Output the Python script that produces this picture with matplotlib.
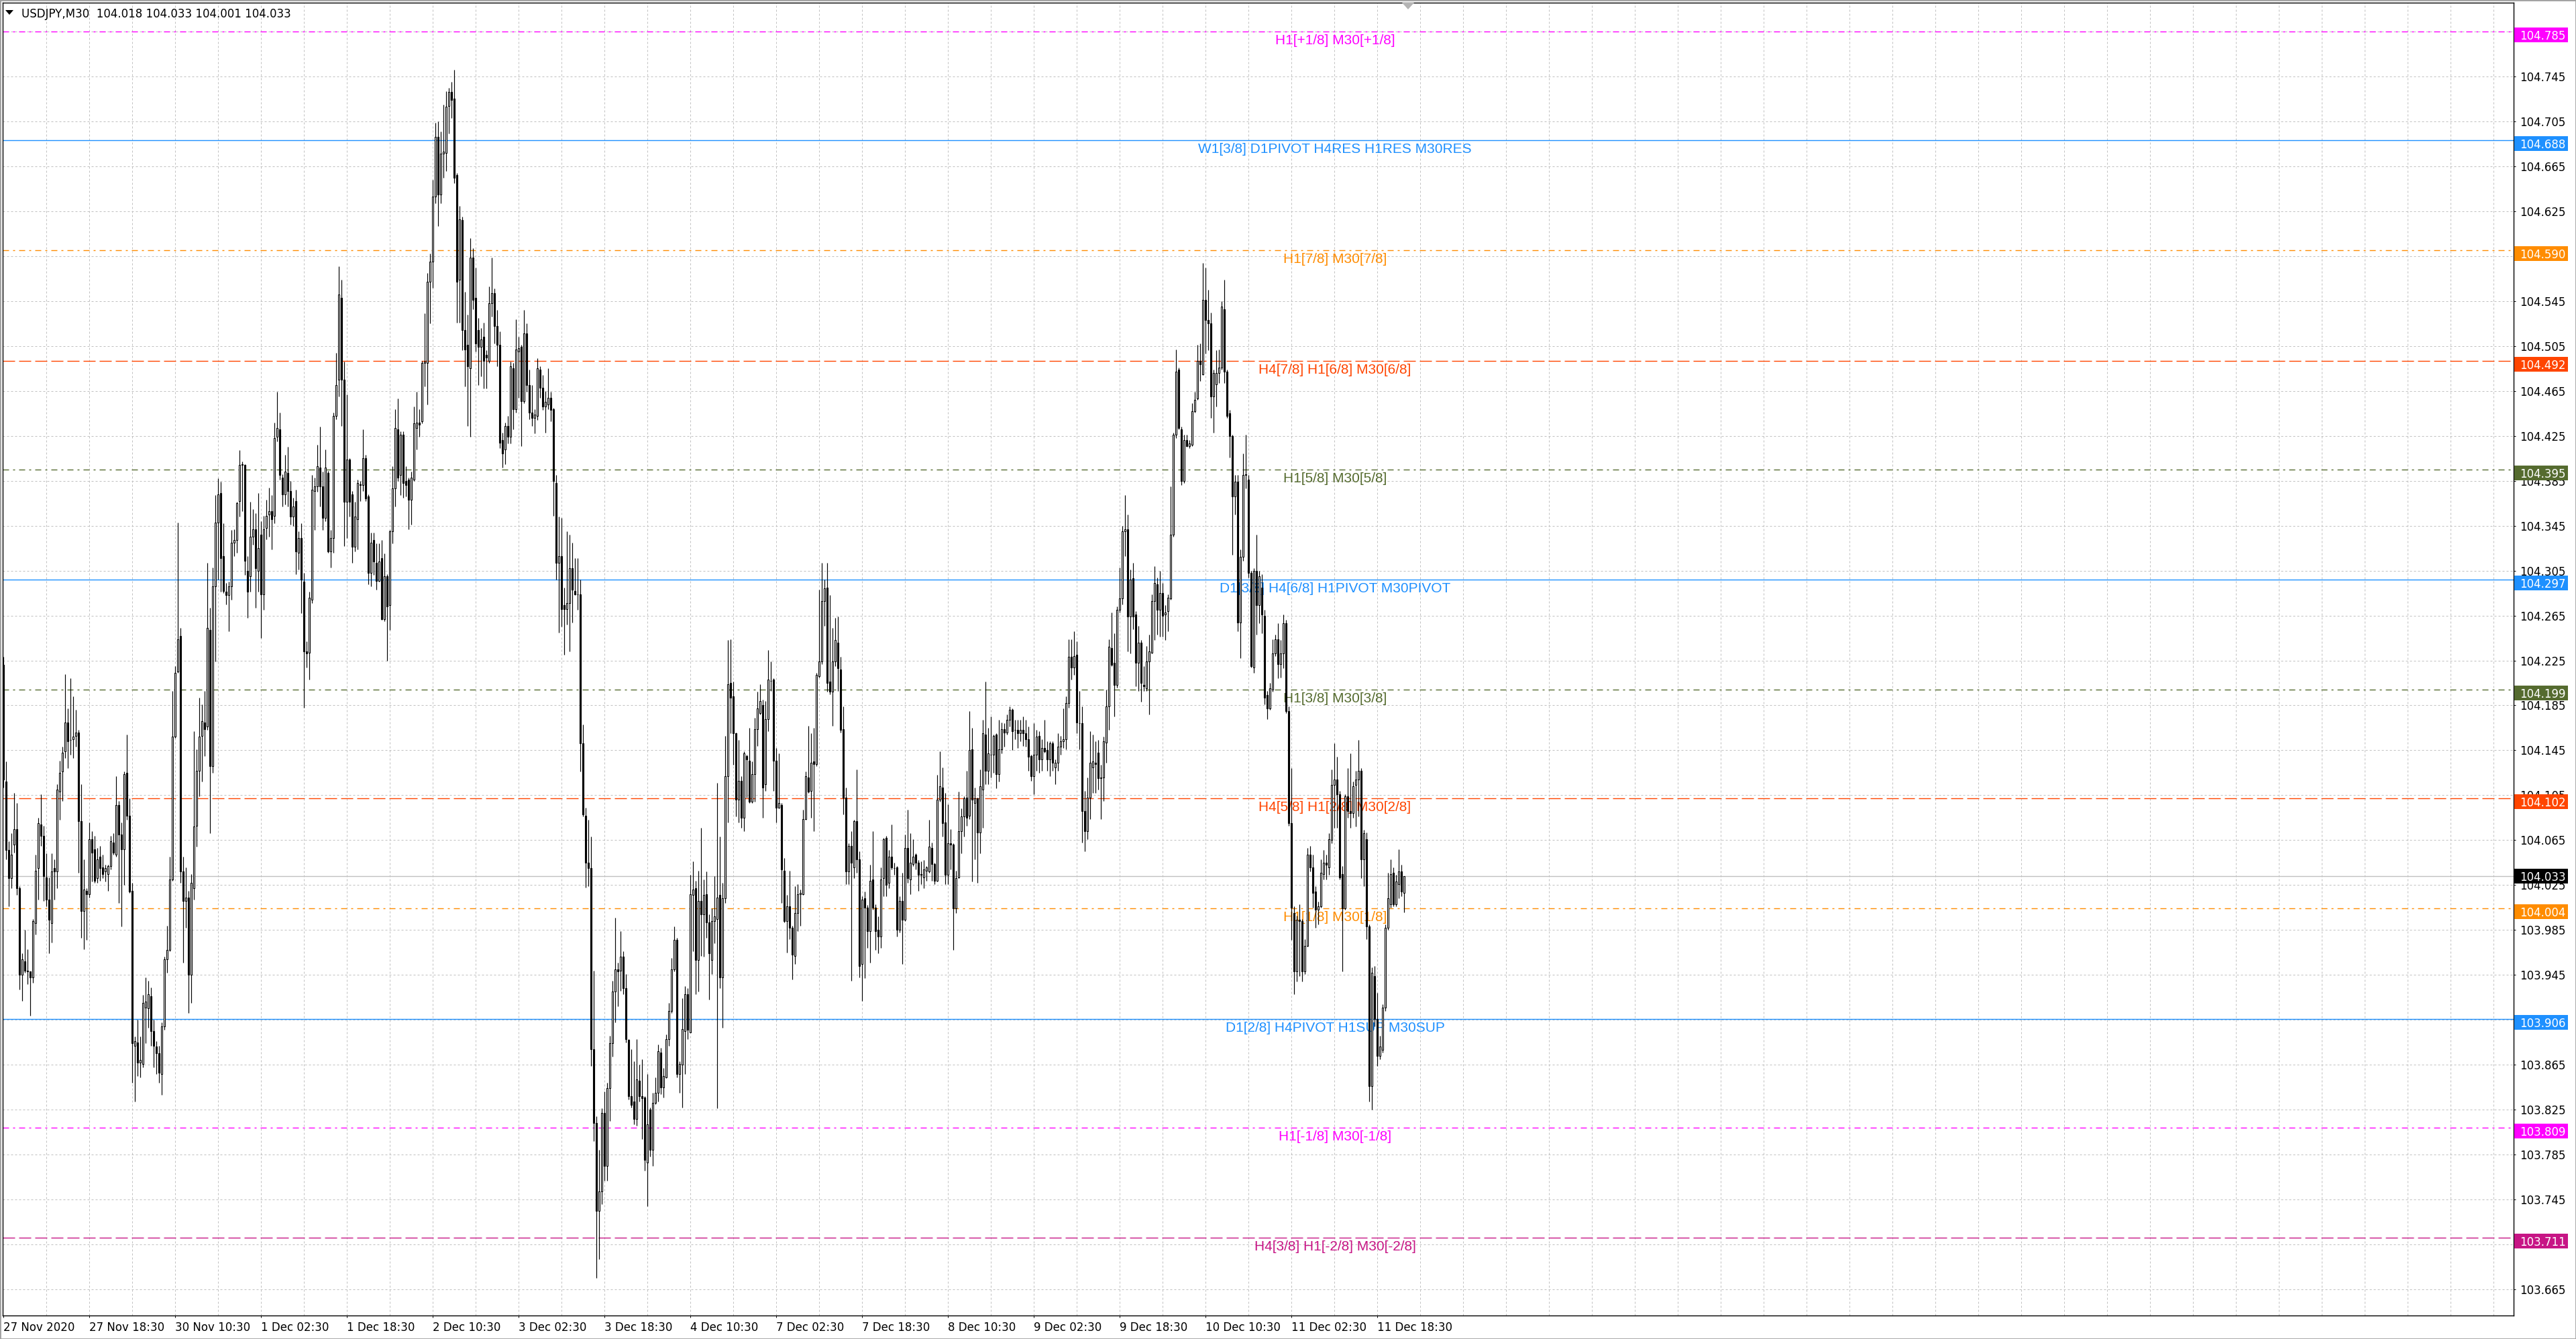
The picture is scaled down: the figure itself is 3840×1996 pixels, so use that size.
import matplotlib
matplotlib.use("Agg")
import matplotlib.pyplot as plt
import matplotlib.transforms as mtransforms
from matplotlib.patches import Rectangle, Polygon
import numpy as np

plt.rcParams['lines.scale_dashes'] = False
plt.rcParams['font.family'] = ['DejaVu Sans']

# USDJPY M30 candles, prices stored as thousandths above 103.000
BASE = 103.0
opens = [
    1221, 1117, 1056, 1031, 1061, 1075, 1022, 945, 957, 949,
    948, 943, 991, 1040, 1079, 1069, 1032, 1012, 991, 1040,
    1037, 1108, 1126, 1144, 1170, 1154, 1155, 1158, 1161, 1082,
    1002, 1020, 1017, 1066, 1057, 1031, 1050, 1041, 1037, 1035,
    1042, 1063, 1052, 1096, 1070, 1057, 1125, 1087, 1020, 882,
    885, 867, 866, 916, 915, 926, 895, 881, 875, 857,
    899, 959, 967, 1030, 1157, 1215, 1247, 1037, 1011, 1014,
    945, 1022, 1078, 1127, 1158, 1170, 1166, 1252, 1131, 1291,
    1348, 1374, 1318, 1286, 1283, 1291, 1330, 1332, 1367, 1399,
    1399, 1305, 1300, 1335, 1342, 1305, 1337, 1284, 1343, 1355,
    1358, 1354, 1424, 1431, 1388, 1373, 1392, 1376, 1353, 1367,
    1321, 1334, 1295, 1233, 1232, 1279, 1376, 1380, 1397, 1380,
    1352, 1392, 1322, 1334, 1443, 1475, 1548, 1475, 1366, 1404,
    1373, 1326, 1351, 1382, 1381, 1405, 1371, 1303, 1332, 1312,
    1296, 1316, 1262, 1300, 1274, 1340, 1378, 1431, 1390, 1426,
    1385, 1386, 1368, 1386, 1432, 1437, 1438, 1490, 1490, 1562,
    1580, 1638, 1691, 1640, 1676, 1677, 1719, 1731, 1725, 1657,
    1564, 1617, 1519, 1506, 1485, 1584, 1548, 1519, 1504, 1513,
    1497, 1492, 1543, 1552, 1523, 1506, 1421, 1413, 1434, 1424,
    1485, 1449, 1500, 1504, 1456, 1516, 1470, 1446, 1441, 1443,
    1484, 1468, 1451, 1453, 1459, 1449, 1383, 1312, 1318, 1274,
    1271, 1276, 1307, 1287, 1284, 1284, 1151, 1087, 1045, 1040,
    879, 813, 735, 752, 822, 775, 844, 884, 930, 950,
    949, 961, 933, 887, 837, 832, 817, 851, 837, 836,
    778, 825, 789, 831, 840, 876, 845, 854, 888, 913,
    950, 976, 857, 865, 895, 928, 894, 1016, 1022, 958,
    1011, 999, 1017, 992, 958, 993, 995, 1016, 943, 1013,
    1122, 1205, 1193, 1160, 1101, 1118, 1085, 1140, 1136, 1099,
    1124, 1164, 1178, 1185, 1115, 1173, 1207, 1208, 1136, 1094,
    1096, 1038, 993, 1006, 987, 962, 1000, 1017, 1017, 1084,
    1121, 1109, 1135, 1133, 1211, 1224, 1278, 1290, 1206, 1197,
    1224, 1241, 1217, 1164, 1103, 1037, 1060, 1041, 1082, 1048,
    955, 1013, 1005, 984, 1030, 1005, 985, 979, 1031, 1067,
    1027, 1050, 1040, 1041, 985, 1011, 994, 1058, 1030, 1044,
    1052, 1045, 1035, 1032, 1038, 1037, 1058, 1044, 1029, 1101,
    1112, 1081, 1034, 1062, 1061, 1004, 1032, 1073, 1086, 1103,
    1087, 1146, 1098, 1102, 1072, 1110, 1159, 1127, 1141, 1141,
    1159, 1124, 1146, 1164, 1161, 1172, 1181, 1163, 1163, 1160,
    1163, 1160, 1155, 1140, 1122, 1141, 1158, 1137, 1147, 1145,
    1137, 1151, 1130, 1134, 1148, 1153, 1155, 1187, 1228, 1219,
    1230, 1169, 1169, 1091, 1073, 1103, 1130, 1134, 1143, 1120,
    1121, 1152, 1184, 1236, 1223, 1203, 1270, 1280, 1340, 1342,
    1264, 1298, 1266, 1223, 1241, 1203, 1200, 1224, 1232, 1278,
    1293, 1270, 1285, 1266, 1269, 1280, 1337, 1426, 1484, 1431,
    1385, 1421, 1416, 1417, 1447, 1458, 1492, 1480, 1546, 1528,
    1525, 1460, 1471, 1481, 1486, 1538, 1482, 1445, 1425, 1371,
    1384, 1259, 1317, 1390, 1386, 1303, 1219, 1305, 1274, 1290,
    1265, 1194, 1182, 1199, 1231, 1244, 1222, 1231, 1258, 1180,
    1080, 1000, 948, 994, 993, 948, 971, 1052, 1041, 1019,
    1003, 1006, 1035, 1045, 1041, 1065, 1114, 1119, 1106, 1035,
    1004, 1104, 1091, 1089, 1114, 1119, 1127, 1048, 1066, 988,
    846, 944, 906, 873, 878, 916, 987, 1008, 1036, 1008,
    1026, 1037, 1018,
]
highs = [
    1228, 1135, 1064, 1071, 1107, 1098, 1024, 964, 985, 968,
    948, 995, 1052, 1085, 1106, 1078, 1053, 1032, 1053, 1048,
    1115, 1136, 1148, 1213, 1182, 1209, 1193, 1181, 1163, 1115,
    1048, 1022, 1081, 1073, 1069, 1058, 1060, 1052, 1043, 1043,
    1069, 1071, 1122, 1100, 1081, 1126, 1159, 1102, 1027, 890,
    905, 890, 927, 943, 940, 934, 905, 886, 882, 903,
    961, 989, 1050, 1198, 1220, 1348, 1254, 1050, 1041, 1020,
    1035, 1162, 1146, 1192, 1186, 1198, 1312, 1272, 1308, 1372,
    1387, 1384, 1347, 1294, 1295, 1341, 1342, 1366, 1412, 1402,
    1400, 1318, 1366, 1360, 1356, 1374, 1349, 1354, 1368, 1379,
    1372, 1437, 1464, 1446, 1391, 1408, 1415, 1385, 1370, 1377,
    1340, 1347, 1303, 1242, 1286, 1390, 1388, 1417, 1433, 1393,
    1413, 1394, 1341, 1446, 1499, 1576, 1564, 1491, 1462, 1405,
    1376, 1366, 1386, 1385, 1431, 1408, 1373, 1339, 1339, 1329,
    1329, 1332, 1320, 1302, 1341, 1398, 1449, 1458, 1429, 1429,
    1398, 1388, 1393, 1451, 1464, 1449, 1492, 1534, 1570, 1587,
    1653, 1704, 1705, 1696, 1720, 1732, 1735, 1740, 1751, 1659,
    1630, 1620, 1553, 1533, 1601, 1592, 1575, 1530, 1521, 1526,
    1501, 1558, 1584, 1556, 1537, 1518, 1428, 1437, 1443, 1491,
    1490, 1529, 1513, 1506, 1537, 1525, 1484, 1470, 1449, 1494,
    1487, 1479, 1465, 1485, 1464, 1450, 1390, 1353, 1352, 1290,
    1340, 1337, 1330, 1316, 1316, 1297, 1168, 1094, 1083, 1068,
    949, 819, 789, 826, 841, 849, 891, 940, 996, 956,
    984, 966, 946, 888, 879, 868, 888, 865, 870, 837,
    857, 827, 840, 854, 883, 880, 862, 892, 920, 960,
    988, 978, 868, 924, 935, 933, 1034, 1046, 1029, 1038,
    1076, 1030, 1037, 999, 1004, 1033, 1116, 1068, 1027, 1158,
    1243, 1244, 1206, 1161, 1154, 1122, 1144, 1141, 1165, 1135,
    1174, 1197, 1204, 1190, 1189, 1234, 1224, 1209, 1147, 1142,
    1098, 1049, 1016, 1038, 989, 1024, 1026, 1021, 1092, 1126,
    1167, 1160, 1165, 1214, 1288, 1312, 1297, 1312, 1283, 1254,
    1263, 1264, 1228, 1184, 1112, 1062, 1073, 1083, 1128, 1055,
    1015, 1019, 1007, 1043, 1073, 1008, 997, 1041, 1067, 1069,
    1056, 1079, 1045, 1042, 1015, 1036, 1070, 1092, 1071, 1066,
    1053, 1047, 1046, 1047, 1042, 1083, 1063, 1045, 1123, 1144,
    1130, 1107, 1097, 1075, 1062, 1038, 1108, 1093, 1104, 1127,
    1180, 1165, 1112, 1103, 1128, 1172, 1206, 1165, 1175, 1159,
    1160, 1172, 1170, 1169, 1177, 1184, 1182, 1172, 1172, 1172,
    1175, 1172, 1166, 1141, 1169, 1163, 1162, 1155, 1172, 1153,
    1153, 1153, 1137, 1160, 1158, 1182, 1193, 1244, 1244, 1251,
    1242, 1198, 1184, 1109, 1121, 1162, 1159, 1153, 1154, 1132,
    1157, 1199, 1244, 1268, 1249, 1273, 1308, 1345, 1372, 1355,
    1306, 1312, 1269, 1256, 1243, 1220, 1238, 1248, 1284, 1309,
    1299, 1305, 1294, 1274, 1284, 1380, 1428, 1502, 1486, 1433,
    1426, 1426, 1421, 1454, 1464, 1506, 1507, 1579, 1575, 1555,
    1535, 1484, 1501, 1502, 1545, 1564, 1484, 1448, 1426, 1390,
    1390, 1324, 1409, 1426, 1390, 1305, 1307, 1337, 1305, 1302,
    1270, 1198, 1205, 1244, 1248, 1258, 1243, 1266, 1261, 1184,
    1129, 1006, 998, 1008, 995, 977, 1058, 1060, 1052, 1024,
    1010, 1048, 1056, 1052, 1071, 1128, 1151, 1139, 1109, 1042,
    1106, 1129, 1142, 1117, 1127, 1154, 1129, 1074, 1072, 990,
    952, 953, 929, 891, 919, 990, 1036, 1048, 1041, 1034,
    1057, 1043, 1033,
]
lows = [
    1112, 1048, 1006, 1022, 1054, 1016, 932, 922, 947, 937,
    909, 938, 981, 1012, 1060, 1011, 1006, 964, 974, 1012,
    1022, 1083, 1100, 1138, 1129, 1141, 1138, 1148, 1036, 978,
    968, 976, 1014, 1028, 1027, 1027, 1029, 1031, 1028, 1020,
    1039, 1052, 1050, 1009, 988, 1025, 1083, 1018, 849, 832,
    855, 854, 863, 884, 898, 882, 863, 857, 849, 838,
    896, 947, 966, 1029, 1156, 1214, 1027, 956, 987, 911,
    920, 1012, 1059, 1104, 1117, 1140, 1163, 1071, 1125, 1224,
    1297, 1286, 1285, 1275, 1251, 1279, 1318, 1321, 1353, 1358,
    1301, 1263, 1286, 1328, 1272, 1286, 1245, 1270, 1333, 1335,
    1324, 1347, 1420, 1386, 1362, 1364, 1362, 1346, 1345, 1302,
    1306, 1267, 1183, 1219, 1208, 1276, 1341, 1375, 1362, 1341,
    1349, 1321, 1308, 1321, 1440, 1460, 1434, 1327, 1334, 1353,
    1312, 1322, 1324, 1367, 1376, 1367, 1293, 1291, 1301, 1288,
    1295, 1261, 1260, 1225, 1252, 1329, 1362, 1385, 1372, 1370,
    1371, 1342, 1346, 1385, 1413, 1424, 1436, 1469, 1453, 1525,
    1557, 1632, 1612, 1632, 1655, 1661, 1694, 1708, 1650, 1526,
    1526, 1501, 1469, 1434, 1424, 1538, 1500, 1470, 1478, 1467,
    1467, 1490, 1531, 1507, 1487, 1414, 1397, 1400, 1418, 1418,
    1431, 1446, 1459, 1416, 1454, 1464, 1440, 1434, 1427, 1439,
    1459, 1448, 1428, 1449, 1438, 1354, 1297, 1250, 1255, 1230,
    1257, 1233, 1259, 1283, 1270, 1126, 1086, 1023, 1024, 864,
    797, 675, 692, 741, 762, 762, 815, 872, 903, 917,
    931, 928, 885, 834, 827, 812, 811, 832, 799, 771,
    739, 783, 775, 830, 832, 839, 836, 853, 882, 911,
    948, 854, 840, 827, 857, 888, 894, 966, 928, 930,
    962, 961, 978, 923, 946, 973, 826, 933, 898, 1009,
    1081, 1160, 1132, 1086, 1081, 1076, 1073, 1103, 1098, 1098,
    1099, 1149, 1177, 1085, 1109, 1162, 1198, 1109, 1081, 1093,
    1009, 992, 965, 977, 941, 955, 984, 989, 1016, 1083,
    1107, 1085, 1073, 1131, 1210, 1222, 1256, 1197, 1195, 1167,
    1220, 1198, 1161, 1088, 1026, 1026, 940, 1031, 1036, 943,
    922, 942, 969, 956, 1003, 967, 964, 969, 1015, 1015,
    1022, 1039, 1034, 979, 983, 955, 993, 1027, 1017, 1042,
    1039, 1020, 1026, 1022, 1029, 1036, 1029, 1026, 1028, 1099,
    1068, 1026, 1026, 1039, 967, 1000, 1031, 1053, 1068, 1078,
    1084, 1028, 1048, 1027, 1053, 1076, 1115, 1115, 1121, 1125,
    1111, 1117, 1142, 1148, 1159, 1166, 1145, 1155, 1147, 1153,
    1149, 1148, 1127, 1118, 1106, 1127, 1125, 1127, 1143, 1127,
    1122, 1127, 1115, 1127, 1141, 1147, 1146, 1183, 1208, 1212,
    1160, 1146, 1063, 1055, 1066, 1084, 1107, 1107, 1110, 1084,
    1100, 1134, 1163, 1220, 1175, 1201, 1268, 1275, 1318, 1233,
    1231, 1253, 1202, 1198, 1188, 1198, 1198, 1177, 1231, 1243,
    1248, 1246, 1246, 1243, 1251, 1279, 1335, 1423, 1431, 1381,
    1383, 1415, 1414, 1416, 1446, 1457, 1474, 1479, 1498, 1501,
    1441, 1428, 1451, 1472, 1484, 1472, 1441, 1406, 1319, 1355,
    1251, 1227, 1314, 1378, 1299, 1219, 1214, 1248, 1258, 1249,
    1186, 1173, 1181, 1197, 1229, 1209, 1210, 1218, 1178, 1078,
    976, 928, 939, 944, 939, 946, 970, 1037, 1005, 987,
    990, 1005, 1030, 1030, 1034, 1062, 1076, 1076, 1030, 948,
    1003, 1085, 1076, 1085, 1077, 1086, 1031, 1024, 977, 832,
    825, 899, 864, 870, 876, 913, 985, 1005, 1006, 1006,
    1013, 1015, 1001,
]
closes = [
    1119, 1056, 1031, 1052, 1075, 1022, 945, 959, 949, 948,
    943, 993, 1038, 1080, 1069, 1033, 1012, 994, 1037, 1037,
    1110, 1125, 1143, 1170, 1153, 1154, 1157, 1161, 1082, 1002,
    1021, 1017, 1066, 1054, 1029, 1048, 1040, 1035, 1040, 1042,
    1064, 1054, 1096, 1070, 1057, 1124, 1087, 1019, 884, 886,
    867, 869, 920, 921, 928, 895, 882, 875, 858, 899,
    959, 967, 1030, 1157, 1214, 1244, 1037, 1011, 1014, 945,
    1027, 1077, 1127, 1157, 1171, 1164, 1254, 1131, 1291, 1348,
    1373, 1316, 1287, 1283, 1291, 1330, 1332, 1365, 1399, 1400,
    1314, 1286, 1335, 1342, 1307, 1325, 1284, 1342, 1354, 1358,
    1351, 1423, 1432, 1390, 1373, 1393, 1376, 1353, 1362, 1322,
    1334, 1297, 1233, 1231, 1281, 1377, 1380, 1398, 1380, 1352,
    1397, 1322, 1334, 1443, 1470, 1551, 1475, 1366, 1404, 1366,
    1326, 1353, 1383, 1381, 1405, 1369, 1303, 1330, 1313, 1296,
    1313, 1262, 1300, 1273, 1340, 1378, 1432, 1388, 1426, 1383,
    1381, 1368, 1388, 1436, 1437, 1435, 1490, 1491, 1562, 1580,
    1638, 1691, 1640, 1676, 1678, 1718, 1731, 1724, 1655, 1562,
    1618, 1519, 1502, 1487, 1584, 1546, 1507, 1504, 1511, 1492,
    1495, 1543, 1552, 1523, 1506, 1419, 1409, 1434, 1424, 1487,
    1449, 1502, 1503, 1456, 1516, 1470, 1446, 1441, 1444, 1485,
    1468, 1451, 1455, 1459, 1448, 1385, 1312, 1318, 1271, 1271,
    1276, 1307, 1288, 1284, 1284, 1151, 1088, 1045, 1040, 879,
    813, 735, 752, 822, 775, 844, 884, 930, 950, 948,
    961, 933, 888, 837, 829, 817, 852, 837, 835, 780,
    812, 789, 831, 840, 877, 845, 855, 888, 913, 950,
    976, 857, 866, 897, 928, 896, 1017, 1021, 958, 1011,
    999, 1016, 992, 964, 993, 997, 1014, 943, 1013, 1122,
    1204, 1192, 1160, 1101, 1118, 1085, 1142, 1137, 1099, 1124,
    1164, 1182, 1189, 1112, 1173, 1208, 1207, 1136, 1094, 1098,
    1039, 993, 1006, 987, 963, 1000, 1017, 1018, 1084, 1122,
    1108, 1134, 1133, 1212, 1224, 1278, 1289, 1205, 1197, 1224,
    1243, 1218, 1163, 1103, 1037, 1060, 1045, 1082, 1048, 953,
    1012, 1005, 984, 1029, 1005, 984, 979, 1030, 1066, 1025,
    1050, 1041, 1040, 985, 1011, 994, 1058, 1031, 1045, 1050,
    1045, 1034, 1034, 1039, 1041, 1059, 1044, 1029, 1101, 1113,
    1080, 1034, 1062, 1061, 1004, 1031, 1073, 1086, 1102, 1085,
    1145, 1101, 1102, 1072, 1113, 1160, 1127, 1142, 1141, 1158,
    1124, 1146, 1164, 1161, 1172, 1181, 1162, 1163, 1160, 1163,
    1160, 1155, 1139, 1122, 1141, 1157, 1137, 1147, 1144, 1137,
    1151, 1134, 1134, 1148, 1153, 1155, 1187, 1228, 1219, 1229,
    1170, 1169, 1091, 1073, 1103, 1134, 1135, 1133, 1120, 1121,
    1153, 1184, 1237, 1221, 1203, 1270, 1280, 1340, 1342, 1264,
    1297, 1264, 1223, 1241, 1205, 1202, 1224, 1233, 1278, 1294,
    1270, 1285, 1265, 1268, 1281, 1337, 1426, 1482, 1432, 1385,
    1421, 1416, 1418, 1447, 1457, 1492, 1489, 1546, 1528, 1525,
    1460, 1481, 1481, 1486, 1540, 1482, 1443, 1425, 1371, 1384,
    1259, 1317, 1390, 1391, 1303, 1220, 1305, 1274, 1300, 1266,
    1192, 1182, 1200, 1231, 1244, 1222, 1231, 1258, 1180, 1080,
    1005, 948, 994, 993, 948, 971, 1052, 1041, 1018, 1003,
    1006, 1036, 1045, 1043, 1066, 1114, 1119, 1106, 1032, 1004,
    1104, 1091, 1089, 1113, 1119, 1127, 1048, 1071, 988, 846,
    947, 906, 873, 881, 916, 987, 1013, 1035, 1008, 1028,
    1037, 1019, 1033,
]

title = "USDJPY,M30  104.018 104.033 104.001 104.033"
bid = 104.033

levels = [104.785, 104.688, 104.590, 104.492, 104.395, 104.297,
          104.199, 104.102, 104.004, 103.906, 103.809, 103.711]
level_texts = ["H1[+1/8] M30[+1/8]",
               "W1[3/8] D1PIVOT H4RES H1RES M30RES",
               "H1[7/8] M30[7/8]",
               "H4[7/8] H1[6/8] M30[6/8]",
               "H1[5/8] M30[5/8]",
               "D1[3/8] H4[6/8] H1PIVOT M30PIVOT",
               "H1[3/8] M30[3/8]",
               "H4[5/8] H1[2/8] M30[2/8]",
               "H1[1/8] M30[1/8]",
               "D1[2/8] H4PIVOT H1SUP M30SUP",
               "H1[-1/8] M30[-1/8]",
               "H4[3/8] H1[-2/8] M30[-2/8]"]
level_colors = ['#FF00FF', '#1E90FF', '#FF8C00', '#FF4500', '#556B2F', '#1E90FF',
                '#556B2F', '#FF4500', '#FF8C00', '#1E90FF', '#FF00FF', '#C71585']
level_styles = ['dashdot', 'solid', 'dashdot', 'dash', 'dashdot', 'solid',
                'dashdot', 'dash', 'dashdot', 'solid', 'dashdot', 'dash']

yticks = [103.665, 103.705, 103.745, 103.785, 103.825, 103.865, 103.905, 103.945,
          103.985, 104.025, 104.065, 104.105, 104.145, 104.185, 104.225, 104.265,
          104.305, 104.345, 104.385, 104.425, 104.465, 104.505, 104.545, 104.585,
          104.625, 104.665, 104.705, 104.745, 104.785]
# tick labels that sit completely under a price box in the reference
hidden_ticks = [103.705, 103.905, 104.585, 104.785]
xtick_bars = [0, 32, 64, 96, 128, 160, 192, 224, 256, 288, 320, 352, 384, 416, 448, 480, 512]
xtick_labels = ["27 Nov 2020", "27 Nov 18:30", "30 Nov 10:30", "1 Dec 02:30", "1 Dec 18:30",
                "2 Dec 10:30", "3 Dec 02:30", "3 Dec 18:30", "4 Dec 10:30", "7 Dec 02:30",
                "7 Dec 18:30", "8 Dec 10:30", "9 Dec 02:30", "9 Dec 18:30", "10 Dec 10:30",
                "11 Dec 02:30", "11 Dec 18:30"]

PX = 0.72  # one pixel in points at dpi 100
dash_styles = {
    'solid': '-',
    'dash': (0, (18 * PX, 6 * PX)),
    'dashdot': (0, (9 * PX, 6 * PX, 3 * PX, 6 * PX)),
}
grid_style = (0, (3 * PX, 3 * PX))

W, H = 3840, 1996
PX_PER_UNIT = 1674.0
fig = plt.figure(figsize=(W / 100, H / 100), dpi=100, facecolor='white')
ax = fig.add_axes([4 / W, 1 - 1961 / H, 3743 / W, 1957 / H])
ax.set_xlim(-0.25, 935.5)
ax.set_ylim(103.6417, 104.8107)

o = BASE + np.array(opens) / 1000.0
h = BASE + np.array(highs) / 1000.0
l = BASE + np.array(lows) / 1000.0
c = BASE + np.array(closes) / 1000.0
x = np.arange(len(o))
up = c >= o

# grid
for v in yticks:
    ax.axhline(v, color='#C0C0C0', lw=PX, ls=grid_style, zorder=0.5)
for i in range(16, 936, 16):
    ax.axvline(i, color='#C0C0C0', lw=PX, ls=grid_style, zorder=0.5)

# level lines and their labels
for lvl, txt, col, st in zip(levels, level_texts, level_colors, level_styles):
    ax.axhline(lvl, color=col, lw=1.0, ls=dash_styles[st], zorder=1)
    ax.annotate(txt, xy=(496.25, lvl), xytext=(0, -4 * PX), textcoords='offset points',
                ha='center', va='top', color=col, fontsize=15,
                family=['Liberation Sans', 'DejaVu Sans'], zorder=2)
ax.axhline(bid, color='#C0C0C0', lw=1.0, zorder=1)

# candles
ax.vlines(x, l, h, color='black', lw=0.85, zorder=3)
ax.bar(x[up], (c - o)[up], bottom=o[up], width=0.5, facecolor='white',
       edgecolor='black', linewidth=0.8, zorder=4)
ax.bar(x[~up], (o - c)[~up], bottom=c[~up], width=0.5, facecolor='black',
       edgecolor='black', linewidth=0.8, zorder=4)

# axes
for sp in ax.spines.values():
    sp.set_color('black')
    sp.set_linewidth(1.0)
ax.yaxis.tick_right()
ax.set_yticks(yticks)
ax.set_yticklabels(["" if v in hidden_ticks else f"{v:.3f}" for v in yticks])
ax.set_xticks(xtick_bars)
ax.set_xticklabels(xtick_labels)
for lab in ax.get_xticklabels():
    lab.set_horizontalalignment('left')
ax.tick_params(axis='y', length=3 * PX, width=PX, pad=4.5, labelsize=12, colors='black')
ax.tick_params(axis='x', length=3 * PX, width=PX, pad=4.5, labelsize=12, colors='black')

# price boxes on the right scale (level boxes sit 5 px under their line)
trans = mtransforms.blended_transform_factory(ax.transAxes, ax.transData)
box_h = 22 / PX_PER_UNIT
shift = 5 / PX_PER_UNIT
boxes = [(lvl, col, shift) for lvl, col in zip(levels, level_colors)] + [(bid, 'black', 0.0)]
for lvl, col, off in boxes:
    yc = lvl - off
    ax.add_patch(Rectangle((1.00027, yc - box_h / 2), 0.02137, box_h, transform=trans,
                           facecolor=col, edgecolor='none', clip_on=False, zorder=10))
    ax.text(1.0024, yc, f"{lvl:.3f}", transform=trans, color='white', fontsize=12,
            ha='left', va='center_baseline', clip_on=False, zorder=11)

# header and small markers
fig.text(32 / W, 1 - 19 / H, title, fontsize=12, ha='left', va='center_baseline', color='black')
fig.patches.append(Polygon([(8 / W, 1 - 15 / H), (20 / W, 1 - 15 / H), (14 / W, 1 - 22 / H)],
                           closed=True, transform=fig.transFigure, facecolor='black',
                           edgecolor='none'))
fig.patches.append(Polygon([(2090 / W, 1 - 4 / H), (2108 / W, 1 - 4 / H), (2099 / W, 1 - 14 / H)],
                           closed=True, transform=fig.transFigure, facecolor='#B4B4B4',
                           edgecolor='none'))
fig.patches.append(Rectangle((0, 0), 1, 1, transform=fig.transFigure, fill=False,
                             edgecolor='#A0A0A0', linewidth=2))

fig.savefig('out.png', dpi=100, facecolor='white')
